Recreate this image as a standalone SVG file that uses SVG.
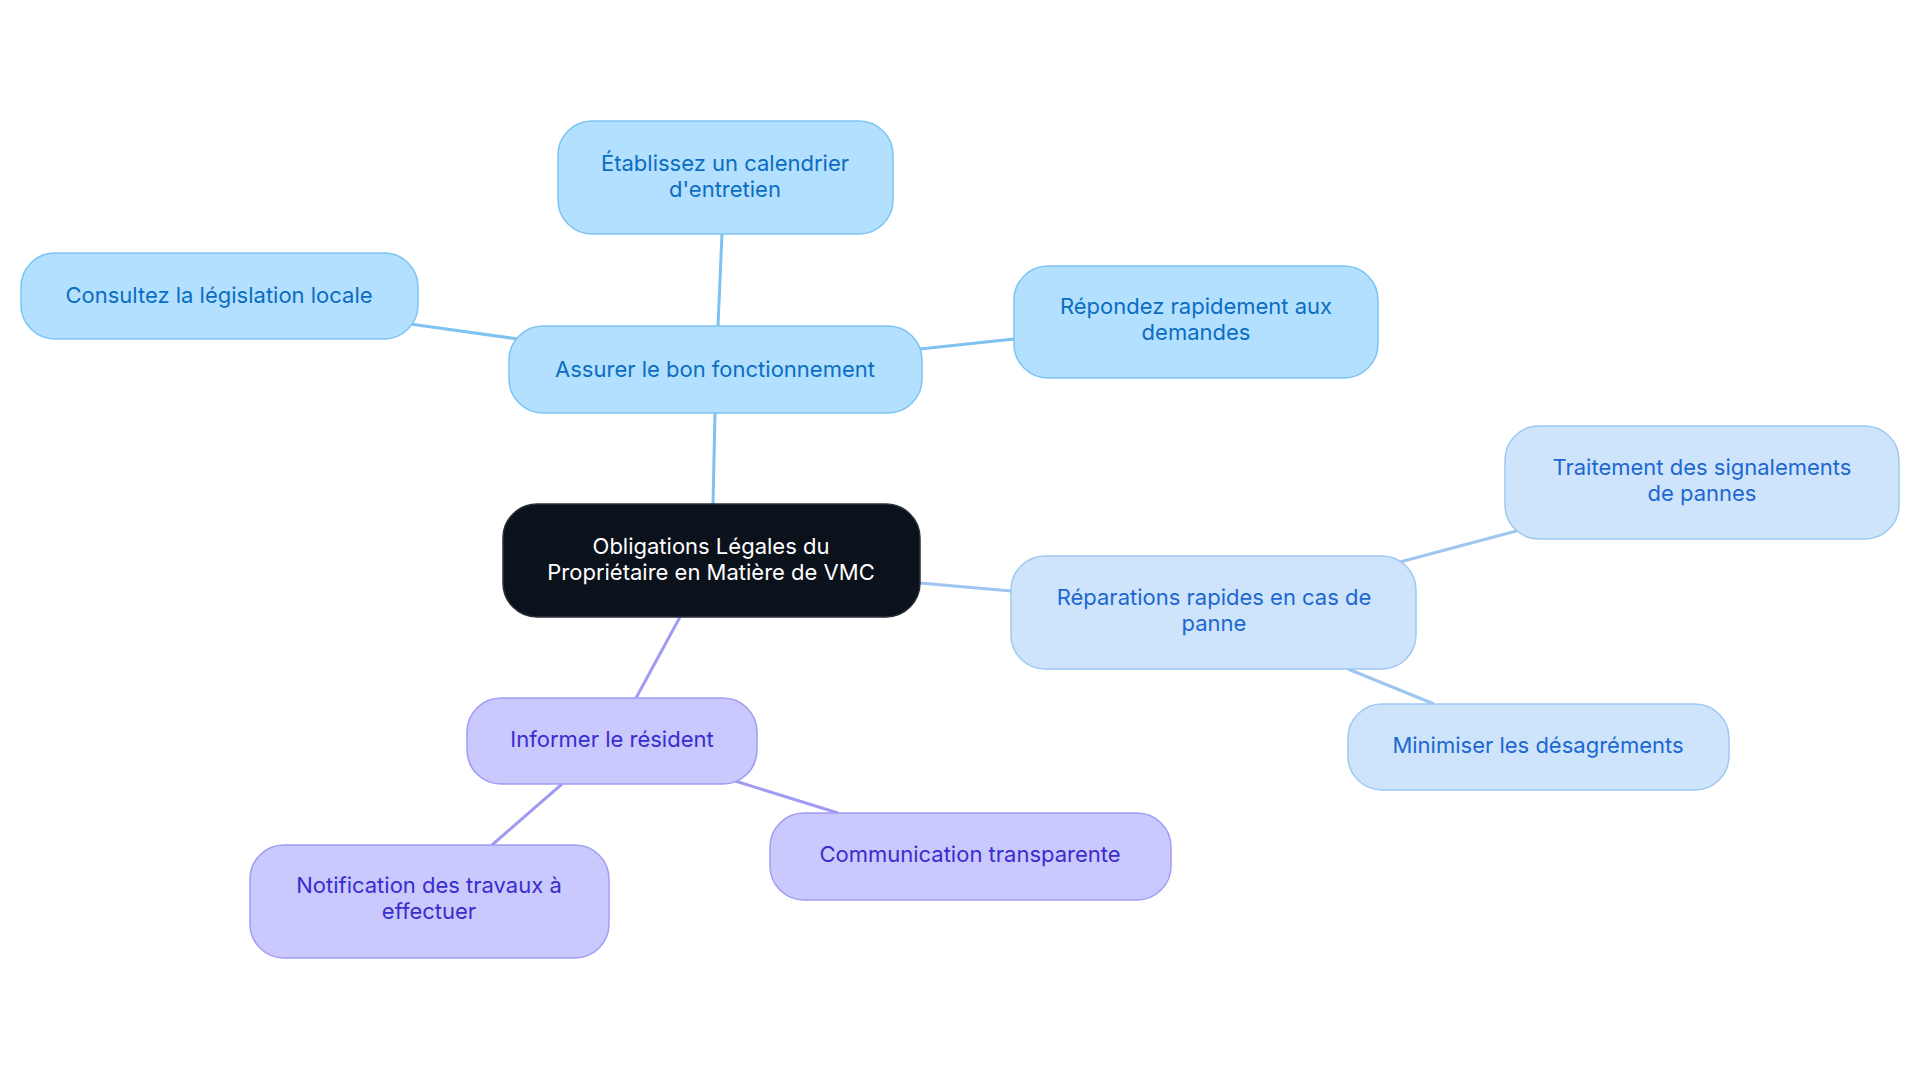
<svg xmlns="http://www.w3.org/2000/svg" width="1920" height="1083" viewBox="0 0 1920 1083">
<style>
text{font-family:Inter,"Noto Sans","Liberation Sans",sans-serif;font-size:22px;text-anchor:middle}
.b rect{fill:#b3e0fe;stroke:#7cc3f2;stroke-width:1.5}.b text{fill:#0b6dc2}
.l rect{fill:#cde4fb;stroke:#9fc8f2;stroke-width:1.5}.l text{fill:#1d67d2}
.p rect{fill:#c9c9fd;stroke:#a19cf4;stroke-width:1.5}.p text{fill:#3a2ccf}
.c rect{fill:#0c121c;stroke:#2a2f38;stroke-width:1.5}.c text{fill:#ffffff}
#edges line{stroke-width:3}
</style>
<rect width="1920" height="1083" fill="#fff"/>
<g id="edges">
<line x1="713" y1="504" x2="715" y2="413" stroke="#7dc2f0"/>
<line x1="718" y1="326" x2="722" y2="234" stroke="#7dc2f0"/>
<line x1="518" y1="339" x2="410" y2="324" stroke="#7dc2f0"/>
<line x1="920" y1="349" x2="1014" y2="339" stroke="#7dc2f0"/>
<line x1="920" y1="583" x2="1011" y2="591" stroke="#9ec6f1"/>
<line x1="1400" y1="562" x2="1520" y2="530" stroke="#9ec6f1"/>
<line x1="1348" y1="669" x2="1434" y2="704" stroke="#9ec6f1"/>
<line x1="680" y1="617" x2="636" y2="698" stroke="#9f9cf2"/>
<line x1="732" y1="780" x2="838" y2="813" stroke="#9f9cf2"/>
<line x1="562" y1="784" x2="492" y2="845" stroke="#9f9cf2"/>
</g>
<g id="center" class="c"><rect x="503" y="504" width="417" height="113" rx="34"/><text x="711" y="554">Obligations Légales du</text><text x="711" y="580">Propriétaire en Matière de VMC</text></g>
<g id="assurer" class="b"><rect x="509" y="326" width="413" height="87" rx="34"/><text x="715" y="377">Assurer le bon fonctionnement</text></g>
<g id="etablissez" class="b"><rect x="558" y="121" width="335" height="113" rx="34"/><text x="725" y="171">Établissez un calendrier</text><text x="725" y="197">d'entretien</text></g>
<g id="consultez" class="b"><rect x="21" y="253" width="397" height="86" rx="34"/><text x="219" y="303">Consultez la législation locale</text></g>
<g id="repondez" class="b"><rect x="1014" y="266" width="364" height="112" rx="34"/><text x="1196" y="314">Répondez rapidement aux</text><text x="1196" y="340">demandes</text></g>
<g id="reparations" class="l"><rect x="1011" y="556" width="405" height="113" rx="34"/><text x="1214" y="605">Réparations rapides en cas de</text><text x="1214" y="631">panne</text></g>
<g id="traitement" class="l"><rect x="1505" y="426" width="394" height="113" rx="34"/><text x="1702" y="475">Traitement des signalements</text><text x="1702" y="501">de pannes</text></g>
<g id="minimiser" class="l"><rect x="1348" y="704" width="381" height="86" rx="34"/><text x="1538" y="753">Minimiser les désagréments</text></g>
<g id="informer" class="p"><rect x="467" y="698" width="290" height="86" rx="34"/><text x="612" y="747">Informer le résident</text></g>
<g id="communication" class="p"><rect x="770" y="813" width="401" height="87" rx="34"/><text x="970" y="862">Communication transparente</text></g>
<g id="notification" class="p"><rect x="250" y="845" width="359" height="113" rx="34"/><text x="429" y="893">Notification des travaux à</text><text x="429" y="919">effectuer</text></g>
</svg>
